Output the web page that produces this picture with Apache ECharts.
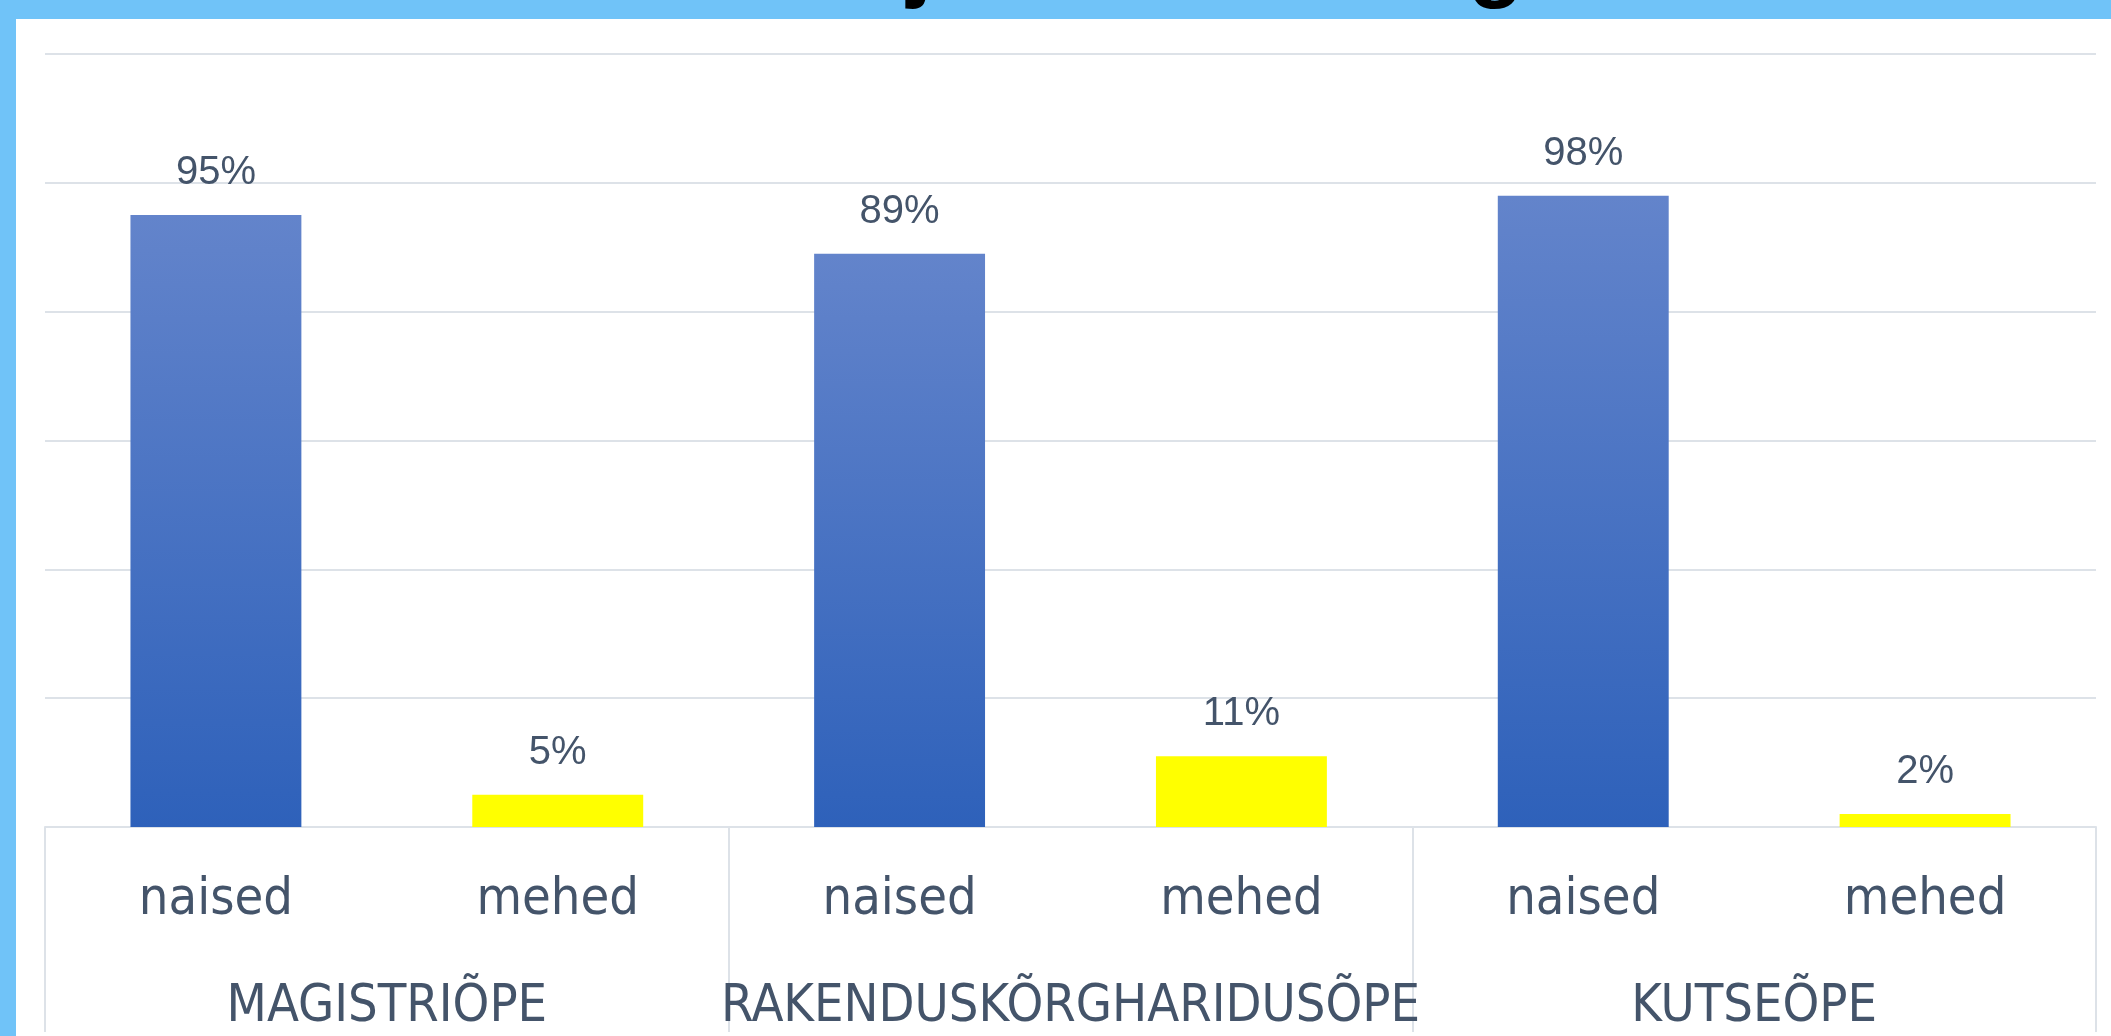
<!DOCTYPE html>
<html>
<head>
<meta charset="utf-8">
<script src="https://cdn.jsdelivr.net/npm/echarts@6/dist/echarts.min.js"></script>
<style>
  html, body { margin: 0; padding: 0; width: 2111px; height: 1036px; overflow: hidden; background: #70C3F8; }
  #paper { position: absolute; left: 16px; top: 19px; width: 2095px; height: 1017px; background: #ffffff; }
  #chart { position: absolute; left: 0; top: 0; width: 2111px; height: 1036px; }
</style>
</head>
<body>
<div id="paper"></div>
<div id="chart"></div>
<script>
const titleText = 'Naised ja mehed kõrghariduses';
const groups = ['MAGISTRIÕPE', 'RAKENDUSKÕRGHARIDUSÕPE', 'KUTSEÕPE'];
const genders = ['naised', 'mehed'];
const naised = [95, 89, 98];
const mehed = [5, 11, 2];
const yTicks = [0, 20, 40, 60, 80, 100, 120];

const textColor = '#44546A';
const gridColor = '#DDE2E8';
const naisedColor = new echarts.graphic.LinearGradient(0, 0, 0, 1, [
  { offset: 0, color: '#6384CB' },
  { offset: 1, color: '#2E61BA' }
]);
const mehedColor = '#FFFF00';

const categories = [];
const barData = [];
groups.forEach((g, i) => {
  categories.push(genders[0]);
  barData.push({ value: naised[i], itemStyle: { color: naisedColor } });
  categories.push(genders[1]);
  barData.push({ value: mehed[i], itemStyle: { color: mehedColor } });
});

const axisFont = "'Liberation Sans Narrow', 'DejaVu Sans Condensed', 'Liberation Sans', sans-serif";

const chart = echarts.init(document.getElementById('chart'), null, { renderer: 'canvas' });
chart.setOption({
  backgroundColor: 'transparent',
  animation: false,
  title: {
    text: titleText,
    left: 583,
    top: -81,
    padding: 0,
    textStyle: { fontFamily: 'Liberation Sans', fontWeight: 'bold', fontSize: 91, color: '#000000' }
  },
  grid: { left: 45, right: 15, top: 54, bottom: 209, containLabel: false },
  xAxis: [
    {
      type: 'category',
      data: categories,
      position: 'bottom',
      axisLine: { show: true, lineStyle: { color: gridColor, width: 2 } },
      axisTick: { show: false },
      axisLabel: {
        interval: 0,
        margin: 47,
        color: textColor,
        fontFamily: axisFont,
        fontSize: 52
      }
    },
    {
      type: 'category',
      data: groups,
      position: 'bottom',
      axisLine: { show: false },
      axisTick: { show: true, length: 205, lineStyle: { color: gridColor, width: 2 } },
      axisLabel: {
        interval: 0,
        margin: 154,
        hideOverlap: false,
        color: textColor,
        fontFamily: axisFont,
        fontSize: 52
      }
    }
  ],
  yAxis: {
    type: 'value',
    min: yTicks[0],
    max: yTicks[yTicks.length - 1],
    interval: yTicks[1] - yTicks[0],
    axisLine: { show: false },
    axisTick: { show: false },
    axisLabel: { show: false },
    splitLine: { show: true, lineStyle: { color: gridColor, width: 2 } }
  },
  series: [
    {
      type: 'bar',
      xAxisIndex: 0,
      data: barData,
      barWidth: '50%',
      label: {
        show: true,
        position: 'top',
        distance: 22,
        formatter: '{c}%',
        color: textColor,
        fontFamily: 'Liberation Sans, sans-serif',
        fontSize: 40
      }
    }
  ]
});
</script>
</body>
</html>
